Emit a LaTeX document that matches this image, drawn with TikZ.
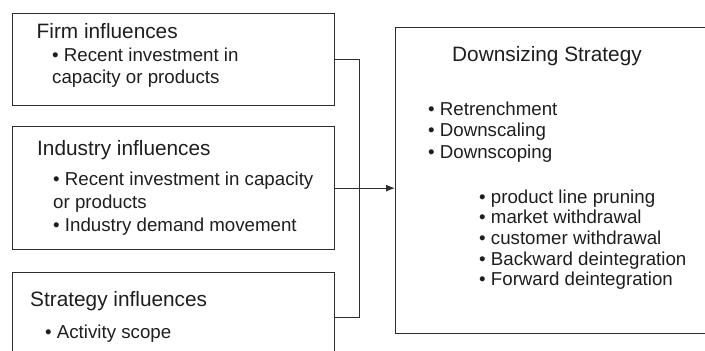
\documentclass[tikz,border=0pt]{standalone}
\usepackage{fontspec}
\setmainfont{Liberation Sans}
\usetikzlibrary{arrows.meta,positioning,calc}
\definecolor{ink}{RGB}{30,30,30}
\definecolor{edge}{RGB}{45,45,45}

\begin{document}
\begin{tikzpicture}[
    x=1pt,y=-1pt,
    blk/.style={rectangle,draw=edge,line width=1.3pt,anchor=north west,inner sep=0pt},
    hd/.style={anchor=base west,inner sep=0pt,text=ink,font=\fontsize{20.8}{24}\selectfont},
    txt/.style={anchor=base west,inner sep=0pt,text=ink,font=\fontsize{18.7}{21}\selectfont},
    arr/.style={-{Latex[length=9pt,width=7pt]},line width=1.1pt,draw=edge},
    wire/.style={line width=1.1pt,draw=edge},
]
\clip (0,0) rectangle (705,351);

% left column
\node[blk,minimum width=322pt,minimum height=92pt] (firm) at (12,13) {};
\node[blk,minimum width=322pt,minimum height=123pt] (industry) at (12,126) {};
\node[blk,minimum width=322pt,minimum height=90pt] (strategy) at (12,272) {};

\node[hd] (firmhd) at (36.5,38) {Firm influences};
\node[txt] (firm1) at (52,61) {• Recent investment in};
\node[txt] (firm2) at (52,83) {capacity or products};

\node[hd] (indhd) at (37,155) {Industry influences};
\node[txt] (ind1) at (53,185) {• Recent investment in capacity};
\node[txt] (ind2) at (53,208) {or products};
\node[txt] (ind3) at (53,231) {• Industry demand movement};

\node[hd] (strhd) at (30,306) {Strategy influences};
\node[txt] (str1) at (45,338) {• Activity scope};

% right box
\node[blk,minimum width=330pt,minimum height=306pt] (ds) at (395,27) {};
\node[hd] (dshd) at (452,61) {Downsizing Strategy};
\foreach \t [count=\i] in {Retrenchment,Downscaling,Downscoping}
  \node[txt] (opt\i) at (428,{115+21.5*(\i-1)}) {• \t};
\foreach \t [count=\i] in {product line pruning,market withdrawal,customer withdrawal,Backward deintegration,Forward deintegration}
  \node[txt] (sub\i) at (479,{203+20.7*(\i-1)}) {• \t};

% connectors
\draw[wire] (firm.east) -- ++(24,0) |- (strategy.east);
\draw[arr] (industry.east) -- (industry.east -| ds.west);
\end{tikzpicture}
\end{document}
